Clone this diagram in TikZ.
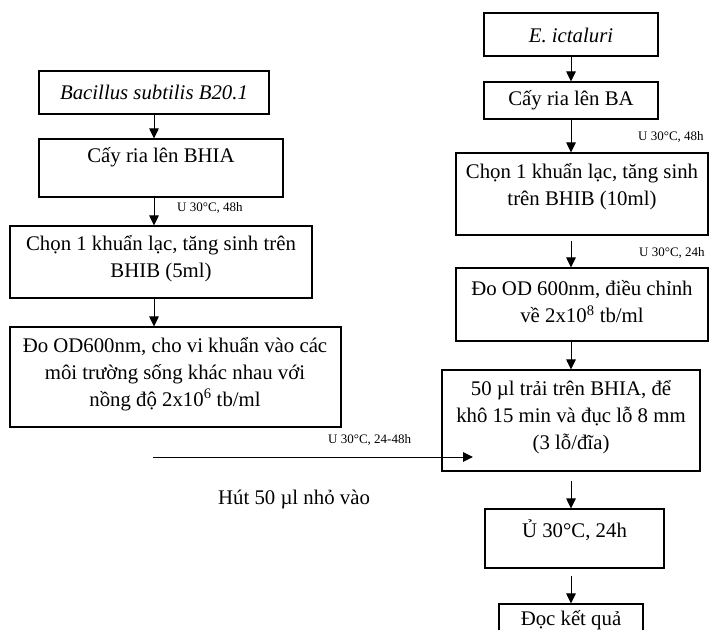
\documentclass[tikz,border=0pt]{standalone}
\usepackage{fontspec}
\setmainfont{Liberation Serif}
\usetikzlibrary{arrows.meta}
\begin{document}
\begin{tikzpicture}[x=1pt,y=-1pt,
  box/.style={draw, line width=1.1pt, inner sep=0pt},
  txt/.style={font=\fontsize{20.8}{27}\selectfont, align=center, inner sep=0pt},
  small/.style={font=\fontsize{13}{15}\selectfont, inner sep=0pt, anchor=west},
  arr/.style={-{Triangle[length=10pt,width=9.5pt]}, line width=1pt}]
\useasboundingbox (0,0) rectangle (709,629);
% left column boxes
\node[box, minimum width=230pt, minimum height=43pt] (b1) at (154,92.5) {};
\node[box, minimum width=244pt, minimum height=58pt] (b2) at (161,168) {};
\node[box, minimum width=302pt, minimum height=72pt] (b3) at (161,262) {};
\node[box, minimum width=331pt, minimum height=100pt] (b4) at (175.5,377) {};
% right column boxes
\node[box, minimum width=174pt, minimum height=43pt] (r1) at (571,34.5) {};
\node[box, minimum width=174pt, minimum height=37pt] (r2) at (571,100.5) {};
\node[box, minimum width=252pt, minimum height=82pt] (r3) at (582,194) {};
\node[box, minimum width=252pt, minimum height=73pt] (r4) at (582,304.5) {};
\node[box, minimum width=258pt, minimum height=101pt] (r5) at (571,420.5) {};
\node[box, minimum width=179pt, minimum height=59pt] (r6) at (574.5,538.5) {};
\node[box, minimum width=144pt, minimum height=36pt] (r7) at (571,622) {};
% texts
\node[txt] (t1) at (154,92) {\itshape Bacillus subtilis B20.1};
\node[txt] (t2) at (161,157) {Cấy ria lên BHIA};
\node[txt] (t3) at (161,259) {Chọn 1 khuẩn lạc, tăng sinh trên\\BHIB (5ml)};
\node[txt] (t4) at (175,374) {Đo OD600nm, cho vi khuẩn vào các\\môi trường sống khác nhau với\\nồng độ 2x10\textsuperscript{6} tb/ml};
\node[txt] (u1) at (571,35) {\itshape E. ictaluri};
\node[txt] (u2) at (571,100) {Cấy ria lên BA};
\node[txt] (u3) at (582,187) {Chọn 1 khuẩn lạc, tăng sinh\\trên BHIB (10ml)};
\node[txt] (u4) at (582,302) {Đo OD 600nm, điều chỉnh\\về 2x10\textsuperscript{8} tb/ml};
\node[txt] (u5) at (571,417) {50 µl trải trên BHIA, để\\khô 15 min và đục lỗ 8 mm\\(3 lỗ/đĩa)};
\node[txt] (u6) at (574.5,530) {Ủ 30°C, 24h};
\node[txt] (u7) at (571,620) {Đọc kết quả};
\node[txt] (h1) at (294,499) {Hút 50 µl nhỏ vào};
% small labels
\node[small] (s1) at (177,208) {U 30°C, 48h};
\node[small] (s2) at (638,137) {U 30°C, 48h};
\node[small] (s3) at (639,253) {U 30°C, 24h};
\node[small] (s4) at (328,440) {U 30°C, 24-48h};
% connectors
\draw[arr] (b1.south) -- (b2.north -| b1.south);
\draw[arr] (b2.south -| b1.south) -- (b3.north -| b1.south);
\draw[arr] (b3.south -| b1.south) -- (b4.north -| b1.south);
\coordinate (hs) at (153,457);
\coordinate (he) at (473,457);
\draw[arr] (hs) -- (he);
\draw[arr] (r1.south) -- (r2.north -| r1.south);
\draw[arr] (r2.south -| r1.south) -- (r3.north -| r1.south);
\draw[arr, shorten <=5pt] (r3.south -| r1.south) -- (r4.north -| r1.south);
\draw[arr] (r4.south -| r1.south) -- (r5.north -| r1.south);
\draw[arr, shorten <=9pt] (r5.south -| r1.south) -- (r6.north -| r1.south);
\draw[arr, shorten <=7pt] (r6.south -| r1.south) -- (r7.north -| r1.south);
\end{tikzpicture}
\end{document}
